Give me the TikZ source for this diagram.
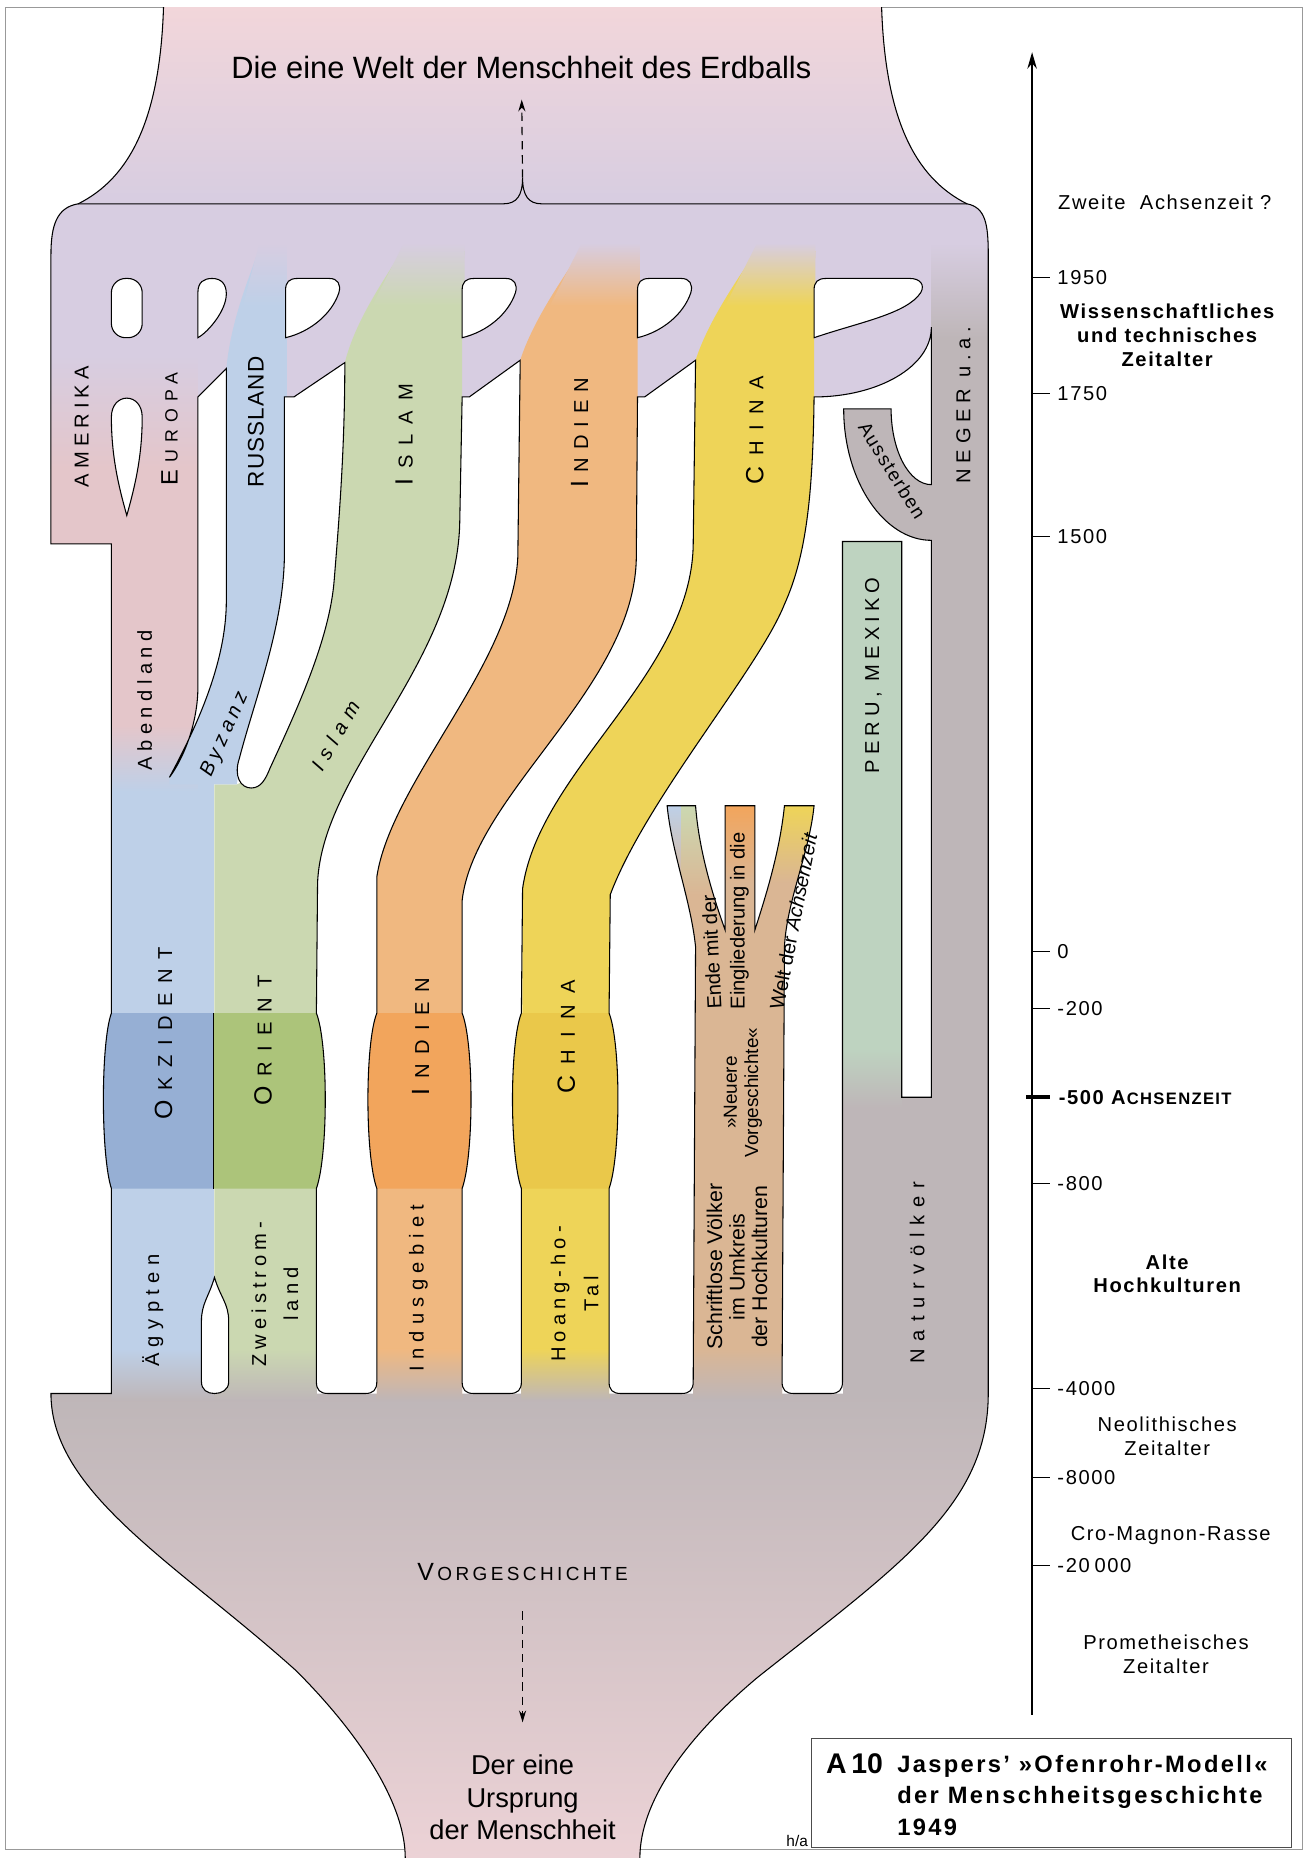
\documentclass[tikz,border=0pt]{standalone}
\usepackage{fontspec}
\setmainfont{Liberation Sans}
\usepackage{tikz}
\usetikzlibrary{arrows.meta}

\definecolor{lav}{RGB}{215,205,225}
\definecolor{pinktop}{RGB}{242,214,218}
\definecolor{pinkbot}{RGB}{236,210,214}
\definecolor{pinkA}{RGB}{228,198,202}
\definecolor{blueL}{RGB}{190,208,232}
\definecolor{blueD}{RGB}{150,175,212}
\definecolor{greenL}{RGB}{203,216,177}
\definecolor{greenD}{RGB}{172,196,122}
\definecolor{orangeL}{RGB}{240,184,128}
\definecolor{orangeD}{RGB}{242,165,92}
\definecolor{yellowL}{RGB}{238,212,88}
\definecolor{yellowD}{RGB}{234,200,74}
\definecolor{tanS}{RGB}{218,182,148}
\definecolor{grayB}{RGB}{190,182,184}
\definecolor{peru}{RGB}{190,211,192}

\newcommand{\sperr}[2]{{\addfontfeature{LetterSpace=#1}#2}}
\newcommand{\gross}[2]{{\fontsize{#1}{#1}\selectfont #2}}

\begin{document}
\begin{tikzpicture}[x=1pt,y=-1pt,
    edge/.style={line width=0.9pt},
    gap/.style={draw,fill=white,line width=0.9pt},
    vlbl/.style={rotate=90,inner sep=0pt,font=\fontsize{17}{19}\selectfont},
    tl/.style={inner sep=0pt,font=\fontsize{17}{20.5}\selectfont\addfontfeature{LetterSpace=8}},
    dasharrow/.style={line width=1pt,dash pattern=on 7pt off 5pt,-{Stealth[length=10pt,width=6pt]}}]
\useasboundingbox (0,0) rectangle (1106,1568);

% frame
\draw[gray!80,line width=0.8pt] (5,6) rectangle (1099,1561);

% top funnel and purple block
\shade[top color=pinktop,bottom color=lav] (138,6) .. controls (135,100) and (110,150) .. (66,172) -- (816,172) .. controls (772,150) and (747,100) .. (744,6) -- cycle;
\fill[lav] (66,172) -- (816,172) .. controls (832,175) and (834,190) .. (834,215) -- (834,345) -- (43,345) -- (43,215) .. controls (43,190) and (48,175) .. (66,172) -- cycle;

% base, Neger, Peru
\shade[top color=grayB,middle color=grayB,bottom color=pinkbot] (43,1176) -- (834,1176) .. controls (834,1270) and (760,1320) .. (640,1415) .. controls (580,1465) and (540,1520) .. (540,1568) -- (342,1568) .. controls (342,1520) and (300,1460) .. (250,1410) .. controls (150,1320) and (43,1260) .. (43,1176) -- cycle;
\fill[grayB] (711,457) rectangle (834,1180);
\fill[grayB] (786,212) rectangle (834,460);
\shade[top color=lav,bottom color=grayB] (786,205) rectangle (834,285);
\fill[grayB] (712,345) -- (752,345) .. controls (752,380) and (767,409) .. (790,409) -- (790,456) -- (786,456) .. controls (746,456) and (712,406) .. (712,345) -- cycle;
\fill[peru] (711,457) rectangle (761,885);
\shade[top color=peru,bottom color=grayB] (711,885) rectangle (761,935);

% Amerika, Europa, Abendland, Okzident
\fill[pinkA] (43,330) -- (167,330) -- (167,662) -- (94,662) -- (94,459) -- (43,459) -- cycle;
\shade[top color=lav,bottom color=pinkA] (43,300) rectangle (167,395);
\fill[blueL] (94,660) rectangle (181,1180);
\shade[top color=pinkA,bottom color=blueL] (94,612) rectangle (167,668);

% Islam, Orient
\fill[greenL] (339,212) -- (392,212) -- (390,240) -- (390,335) -- (388,440) .. controls (386,560) and (272,650) .. (268,745) -- (267,1180) -- (181,1180) -- (181,662) -- (200,662) -- (228,648) .. controls (250,600) and (278,540) .. (282,490) .. controls (286,440) and (291,380) .. (291,306) .. controls (300,270) and (325,235) .. (339,212) -- cycle;
\shade[top color=lav,bottom color=greenL] (341,205) -- (392,205) -- (392,258) -- (314,258) -- cycle;

% Russland, Byzanz
\fill[blueL] (218,212) -- (242,212) -- (242,470) .. controls (239,530) and (215,590) .. (202,640) -- (200,662) -- (143,662) -- (143,656) .. controls (165,615) and (191,560) .. (191,507) -- (191,311) .. controls (195,270) and (210,235) .. (218,212) -- cycle;
\shade[top color=lav,bottom color=blueL] (219,205) -- (242,205) -- (242,258) -- (205,258) -- cycle;

% Indien
\fill[orangeL] (490,212) -- (539,212) -- (538,240) -- (538,335) -- (537,470) .. controls (536,580) and (400,670) .. (390,760) -- (390,1180) -- (318,1180) -- (318,740) .. controls (330,660) and (433,560) .. (437,470) -- (439,304) .. controls (450,270) and (475,235) .. (490,212) -- cycle;
\shade[top color=lav,bottom color=orangeL] (491,205) -- (540,205) -- (540,258) -- (464,258) -- cycle;

% China
\fill[yellowL] (638,212) -- (688,212) -- (687,240) -- (687,335) .. controls (686,420) and (680,470) .. (662,510) .. controls (640,565) and (545,675) .. (515,755) -- (514,1180) -- (440,1180) -- (441,750) .. controls (455,650) and (583,570) .. (585,460) -- (587,304) .. controls (598,270) and (623,235) .. (638,212) -- cycle;
\shade[top color=lav,bottom color=yellowL] (639,205) -- (688,205) -- (688,258) -- (612,258) -- cycle;

% Achsenzeit band
\fill[blueD] (94,855) .. controls (85,880) and (85,975) .. (94,1003) -- (180,1003) -- (180,855) -- cycle;
\fill[greenD] (180,855) -- (267,855) .. controls (277,880) and (277,975) .. (267,1003) -- (180,1003) -- cycle;
\fill[orangeD] (318,855) .. controls (308,880) and (308,975) .. (318,1003) -- (390,1003) .. controls (400,975) and (400,880) .. (390,855) -- cycle;
\fill[yellowD] (440,855) .. controls (430,880) and (430,975) .. (440,1003) -- (514,1003) .. controls (524,975) and (524,880) .. (514,855) -- cycle;

% Schriftlose Voelker
\fill[tanS] (563,680) -- (587,680) .. controls (590,720) and (603,760) .. (612,785) -- (612,680) -- (637,680) -- (637,785) .. controls (645,760) and (658,720) .. (662,680) -- (687,680) .. controls (683,720) and (664,760) .. (662,799) -- (660,1180) -- (585,1180) -- (587,799) .. controls (583,760) and (567,720) .. (563,680) -- cycle;
\shade[top color=blueL,bottom color=tanS] (555,680) rectangle (575,755);
\shade[top color=greenL,bottom color=tanS] (575,680) rectangle (603,755);
\shade[top color=orangeD,bottom color=tanS] (612,680) rectangle (637,745);
\shade[top color=yellowL,bottom color=tanS] (646,680) rectangle (692,745);

% fading into the base
\shade[top color=blueL,bottom color=grayB] (94,1138) rectangle (181,1182);
\shade[top color=greenL,bottom color=grayB] (181,1138) rectangle (267,1182);
\shade[top color=orangeL,bottom color=grayB] (318,1138) rectangle (390,1182);
\shade[top color=yellowL,bottom color=grayB] (440,1138) rectangle (514,1182);
\shade[top color=tanS,bottom color=grayB] (585,1138) rectangle (660,1182);

% holes in the purple block
\draw[gap,rounded corners=12] (94,235) rectangle (120,285);
\draw[gap] (167,285) -- (167,247) .. controls (167,238) and (172,235) .. (179,235) .. controls (187,235) and (191,240) .. (191,248) .. controls (191,262) and (176,280) .. (167,285) -- cycle;
\foreach \dx in {0,149,297}
  \draw[gap,shift={(\dx,0)}] (241,285) -- (241,245) .. controls (241,238) and (244,235) .. (251,235) -- (278,235) .. controls (285,235) and (288,240) .. (286,247) .. controls (280,265) and (262,280) .. (241,285) -- cycle;
\draw[gap] (687,285) -- (687,245) .. controls (687,238) and (690,235) .. (697,235) -- (768,235) .. controls (776,235) and (781,240) .. (777,247) .. controls (765,265) and (725,272) .. (687,285) -- cycle;
\draw[gap] (107,435) .. controls (100,410) and (94,385) .. (94,352) .. controls (94,342) and (100,336) .. (107,336) .. controls (114,336) and (120,342) .. (120,352) .. controls (120,385) and (114,410) .. (107,435) -- cycle;

% gaps between the streams
\draw[gap] (167,335) -- (191,311) -- (191,507) .. controls (191,560) and (165,615) .. (143,656) .. controls (155,640) and (167,610) .. (167,580) -- cycle;
\draw[gap] (240,335) -- (248,335) -- (291,306) .. controls (291,380) and (286,440) .. (282,490) .. controls (278,540) and (250,600) .. (228,648) .. controls (224,658) and (220,665) .. (212,665) .. controls (203,665) and (197,655) .. (202,640) .. controls (215,590) and (239,530) .. (240,470) -- cycle;
\draw[gap] (390,335) -- (396,335) -- (439,304) -- (437,470) .. controls (433,560) and (330,660) .. (318,740) -- (318,855) .. controls (308,880) and (308,975) .. (318,1003) -- (318,1166) .. controls (318,1173) and (315,1176) .. (308,1176) -- (277,1176) .. controls (270,1176) and (267,1173) .. (267,1166) -- (267,1003) .. controls (277,975) and (277,880) .. (267,855) -- (268,745) .. controls (272,650) and (386,560) .. (388,440) -- cycle;
\draw[gap] (538,335) -- (544,335) -- (587,304) -- (585,460) .. controls (583,570) and (455,650) .. (441,750) -- (440,855) .. controls (430,880) and (430,975) .. (440,1003) -- (440,1166) .. controls (440,1173) and (437,1176) .. (430,1176) -- (400,1176) .. controls (393,1176) and (390,1173) .. (390,1166) -- (390,1003) .. controls (400,975) and (400,880) .. (390,855) -- (390,760) .. controls (400,670) and (536,580) .. (537,470) -- cycle;
\draw[gap] (687,335) .. controls (740,335) and (786,310) .. (786,276) -- (786,409)
  .. controls (767,409) and (752,380) .. (752,345) -- (712,345)
  .. controls (712,406) and (746,456) .. (786,456) -- (786,926) -- (761,926) -- (761,457) -- (711,457)
  -- (711,1166) .. controls (711,1173) and (708,1176) .. (701,1176) -- (670,1176) .. controls (663,1176) and (660,1173) .. (660,1166)
  -- (662,799) .. controls (664,760) and (683,720) .. (687,680) -- (662,680)
  .. controls (658,720) and (645,760) .. (637,785) -- (637,680) -- (612,680) -- (612,785)
  .. controls (603,760) and (590,720) .. (587,680) -- (563,680)
  .. controls (567,720) and (583,760) .. (587,799) -- (585,1166)
  .. controls (585,1173) and (582,1176) .. (575,1176) -- (524,1176) .. controls (517,1176) and (514,1173) .. (514,1166)
  -- (514,1003) .. controls (524,975) and (524,880) .. (514,855) -- (515,755)
  .. controls (545,675) and (640,565) .. (662,510) .. controls (680,470) and (686,420) .. (687,335) -- cycle;
\draw[gap] (181,1078) .. controls (176,1095) and (170,1100) .. (170,1115) -- (170,1166) .. controls (170,1173) and (175,1176) .. (181,1176) .. controls (187,1176) and (193,1173) .. (193,1166) -- (193,1115) .. controls (193,1100) and (186,1095) .. (181,1078) -- cycle;

% outer outline
\draw[edge] (138,6) .. controls (135,100) and (110,150) .. (66,172) .. controls (48,175) and (43,190) .. (43,215) -- (43,459) -- (94,459) -- (94,855) .. controls (85,880) and (85,975) .. (94,1003) -- (94,1176) -- (43,1176) .. controls (43,1260) and (150,1320) .. (250,1410) .. controls (300,1460) and (342,1520) .. (342,1568);
\draw[edge] (744,6) .. controls (747,100) and (772,150) .. (816,172) .. controls (832,175) and (834,190) .. (834,215) -- (834,1176) .. controls (834,1270) and (760,1320) .. (640,1415) .. controls (580,1465) and (540,1520) .. (540,1568);
\coordinate (cusp) at (441,150);
\draw[edge] (66,172) -- (425,172) .. controls (436,172) and (441,165) .. (cusp) .. controls (441,165) and (446,172) .. (457,172) -- (816,172);
\draw[line width=0.6pt] (180,855) -- (180,1003);

% texts in the tube
\node[font=\fontsize{26}{30}\selectfont] (welt) at (440,57) {Die eine Welt der Menschheit des Erdballs};
\draw[dasharrow,shorten >=14pt] (cusp) -- (welt);

\node[vlbl] (amerika) at (69,360) {\sperr{25}{AMERIKA}};
\node[vlbl] (europa) at (143,362) {\sperr{40}{\gross{20}{E}\kern6pt\gross{15}{UROPA}}};
\node[vlbl] (russland) at (216,356) {\sperr{5}{\gross{19}{RUSSLAND}}};
\node[vlbl] (islamO) at (341,367) {\sperr{50}{\gross{21}{I}\kern8.5pt SLAM}};
\node[vlbl] (indienO) at (489,365) {\sperr{40}{\gross{21}{I}\kern6.8pt NDIEN}};
\node[vlbl] (chinaO) at (637,363) {\sperr{52}{\gross{21}{C}\kern8.8pt HINA}};
\node[vlbl] (neger) at (813,342) {\sperr{28}{NEGER u.a.}};
\node[vlbl] (abendland) at (122,591) {\sperr{27}{Abendland}};
\node[rotate=66,inner sep=0pt,font=\itshape\fontsize{17}{19}\selectfont] (byzanz) at (190,620) {\sperr{24}{Byzanz}};
\node[rotate=60,inner sep=0pt,font=\itshape\fontsize{17}{19}\selectfont] (islamU) at (283,621) {\sperr{35}{Islam}};
\node[vlbl] (peru) at (737,570) {\sperr{25}{PERU, MEXIKO}};
\node[rotate=-58,inner sep=0pt,font=\fontsize{16}{18}\selectfont] (aussterben) at (753,397) {\sperr{8}{Aussterben}};

\node[vlbl] (okzident) at (138,872) {\sperr{47}{\gross{21}{O}\kern8pt KZIDENT}};
\node[vlbl] (orient) at (222,878) {\sperr{50}{\gross{21}{O}\kern8.5pt RIENT}};
\node[vlbl] (indienU) at (355,875) {\sperr{47}{\gross{21}{I}\kern8pt NDIEN}};
\node[vlbl] (chinaU) at (478,875) {\sperr{60}{\gross{21}{C}\kern10pt HINA}};

\node[vlbl] (aegypten) at (129,1106) {\sperr{32}{Ägypten}};
\node[vlbl,align=center,font=\fontsize{17}{27}\selectfont\addfontfeature{LetterSpace=25}] (zweistrom) at (232,1092) {Zweistrom-\\land};
\node[vlbl] (indus) at (353,1087) {\sperr{31}{Indusgebiet}};
\node[vlbl,align=center,font=\fontsize{17}{28}\selectfont\addfontfeature{LetterSpace=25}] (hoangho) at (485,1092) {Hoang-ho-\\Tal};
\node[vlbl,align=center,font=\fontsize{18}{19}\selectfont] (schriftlos) at (622,1069) {Schriftlose Völker\\im Umkreis\\der Hochkulturen};
\node[vlbl,align=center,font=\fontsize{16}{18}\selectfont] (neuere) at (627,922) {»Neuere\\Vorgeschichte«};
\node[rotate=93,anchor=west,inner sep=0pt,font=\fontsize{17}{19}\selectfont] (ende) at (603,852) {Ende mit der};
\node[rotate=90,anchor=west,inner sep=0pt,font=\fontsize{17}{19}\selectfont] (eingl) at (624,852) {Eingliederung in die};
\node[rotate=79,anchor=west,inner sep=0pt,font=\fontsize{17}{19}\selectfont] (weltder) at (655,852) {Welt der \textit{Achsenzeit}};
\node[vlbl] (natur) at (774,1074) {\sperr{39}{Naturvölker}};

\node[font=\fontsize{16}{18}\selectfont] (vorgeschichte) at (441,1327) {\sperr{18}{\gross{21}{V}\kern2.9pt ORGESCHICHTE}};
\node[font=\fontsize{23}{27.5}\selectfont,align=center] (ursprung) at (441,1517) {Der eine\\Ursprung\\der Menschheit};
\draw[dasharrow,shorten <=22pt,shorten >=24pt] (vorgeschichte) -- (ursprung);

% time axis
\coordinate (axisBot) at (871,1447);
\coordinate (axisTop) at (871,44);
\draw[line width=1.2pt,-{Stealth[length=14pt,width=8pt]}] (axisBot) -- (axisTop);
\foreach \yy/\lab in {234/1950,332/1750,453/1500,803/0,851/-200,999/-800,1172/-4000,1247/-8000,1321/{-20\kern4pt 000}}
  \draw[line width=0.8pt] (871,\yy) -- (886,\yy) node[tl,right=6pt] {\lab};
\draw[line width=3pt] (866,926) -- (886,926) node[tl,right=6pt,font=\bfseries\fontsize{17}{19}\selectfont\addfontfeature{LetterSpace=8}] {-500 \gross{17}{A}\kern1pt\gross{14}{CHSENZEIT}};

\node[tl] (zweite) at (983,171) {Zweite\ \ Achsenzeit\ ?};
\node[tl,align=center,font=\bfseries\fontsize{17}{20.5}\selectfont\addfontfeature{LetterSpace=8}] (wiss) at (985,283) {Wissenschaftliches\\und technisches\\Zeitalter};
\node[tl,align=center,font=\bfseries\fontsize{17}{20}\selectfont\addfontfeature{LetterSpace=8}] (alte) at (985,1075) {Alte\\Hochkulturen};
\node[tl,align=center] (neolith) at (985,1212) {Neolithisches\\Zeitalter};
\node[tl] (cromagnon) at (988,1296) {Cro-Magnon-Rasse};
\node[tl,align=center] (promet) at (984,1396) {Prometheisches\\Zeitalter};

% title box
\draw[line width=0.9pt,gray!60!black] (685,1467) rectangle (1090,1559);
\node[anchor=base west,inner sep=0pt,font=\bfseries\fontsize{24}{26}\selectfont] (a10) at (697,1497) {A\,10};
\node[anchor=north west,inner sep=0pt,align=left,font=\bfseries\fontsize{20}{26.5}\selectfont\addfontfeature{LetterSpace=10}] (titel) at (757,1481) {Jaspers’ »Ofenrohr-Modell«\\der Menschheitsgeschichte\\1949};
\node[anchor=base east,inner sep=1pt,font=\fontsize{13}{15}\selectfont] (ha) at (683,1558) {h/a};
\end{tikzpicture}
\end{document}
